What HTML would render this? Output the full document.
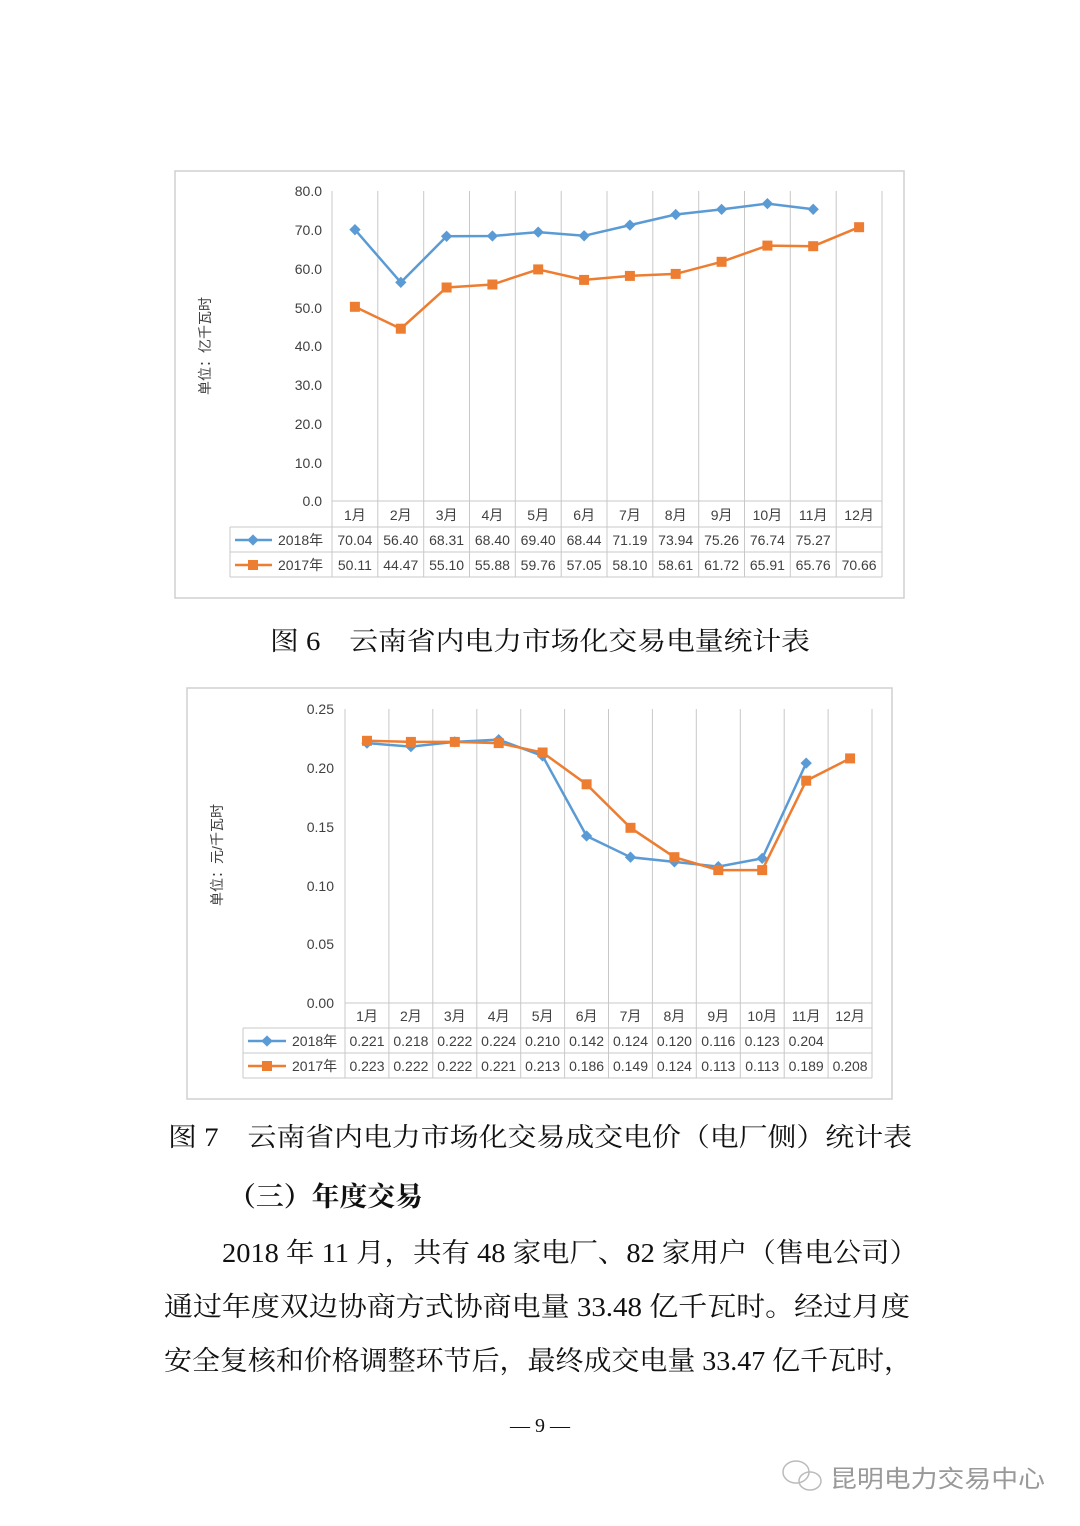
<!DOCTYPE html>
<html><head><meta charset="utf-8"><style>
html,body{margin:0;padding:0;background:#fff;}
svg{display:block;}
.s{font-family:"Liberation Serif","Noto Serif CJK SC",serif;fill:#111;}
.a{font-family:"Liberation Sans","Noto Sans CJK SC",sans-serif;fill:#404040;font-size:14px;}
</style></head><body>
<svg width="1080" height="1526" viewBox="0 0 1080 1526" xmlns="http://www.w3.org/2000/svg">
<rect width="1080" height="1526" fill="#fff"/>

<!-- CHART 1 -->
<rect x="175" y="171" width="729" height="427" fill="#fff" stroke="#d0d0d0" stroke-width="1.5"/>
<g stroke="#c8c8c8" stroke-width="1">
<line x1="332" y1="191" x2="332" y2="577"/>
<line x1="377.8" y1="191" x2="377.8" y2="577"/>
<line x1="423.7" y1="191" x2="423.7" y2="577"/>
<line x1="469.5" y1="191" x2="469.5" y2="577"/>
<line x1="515.3" y1="191" x2="515.3" y2="577"/>
<line x1="561.2" y1="191" x2="561.2" y2="577"/>
<line x1="607" y1="191" x2="607" y2="577"/>
<line x1="652.8" y1="191" x2="652.8" y2="577"/>
<line x1="698.7" y1="191" x2="698.7" y2="577"/>
<line x1="744.5" y1="191" x2="744.5" y2="577"/>
<line x1="790.3" y1="191" x2="790.3" y2="577"/>
<line x1="836.2" y1="191" x2="836.2" y2="577"/>
<line x1="882" y1="191" x2="882" y2="577"/>
<line x1="332" y1="501" x2="882" y2="501"/>
<line x1="230" y1="527" x2="882" y2="527"/>
<line x1="230" y1="552" x2="882" y2="552"/>
<line x1="230" y1="577" x2="882" y2="577"/>
<line x1="230" y1="527" x2="230" y2="577"/>
</g>
<g class="a" text-anchor="end">
<text x="322" y="196">80.0</text><text x="322" y="235">70.0</text><text x="322" y="274">60.0</text>
<text x="322" y="313">50.0</text><text x="322" y="351">40.0</text><text x="322" y="390">30.0</text>
<text x="322" y="429">20.0</text><text x="322" y="468">10.0</text><text x="322" y="506">0.0</text>
</g>
<text class="a" transform="translate(210,346) rotate(-90)" text-anchor="middle" font-size="13">单位：亿千瓦时</text>
<g class="a" text-anchor="middle">
<text x="354.9" y="520">1月</text><text x="400.8" y="520">2月</text><text x="446.6" y="520">3月</text><text x="492.4" y="520">4月</text><text x="538.2" y="520">5月</text><text x="584.1" y="520">6月</text><text x="629.9" y="520">7月</text><text x="675.7" y="520">8月</text><text x="721.6" y="520">9月</text><text x="767.4" y="520">10月</text><text x="813.2" y="520">11月</text><text x="859.1" y="520">12月</text>
<text x="354.9" y="545">70.04</text><text x="400.8" y="545">56.40</text><text x="446.6" y="545">68.31</text><text x="492.4" y="545">68.40</text><text x="538.2" y="545">69.40</text><text x="584.1" y="545">68.44</text><text x="629.9" y="545">71.19</text><text x="675.7" y="545">73.94</text><text x="721.6" y="545">75.26</text><text x="767.4" y="545">76.74</text><text x="813.2" y="545">75.27</text>
<text x="354.9" y="570">50.11</text><text x="400.8" y="570">44.47</text><text x="446.6" y="570">55.10</text><text x="492.4" y="570">55.88</text><text x="538.2" y="570">59.76</text><text x="584.1" y="570">57.05</text><text x="629.9" y="570">58.10</text><text x="675.7" y="570">58.61</text><text x="721.6" y="570">61.72</text><text x="767.4" y="570">65.91</text><text x="813.2" y="570">65.76</text><text x="859.1" y="570">70.66</text>
</g>
<g class="a"><text x="278" y="545">2018年</text><text x="278" y="570">2017年</text></g>
<line x1="235" y1="540" x2="272" y2="540" stroke="#5b9bd5" stroke-width="2.5"/>
<rect x="249" y="536" width="8" height="8" fill="#5b9bd5" transform="rotate(45 253 540)"/>
<line x1="235" y1="565" x2="272" y2="565" stroke="#ed7d31" stroke-width="2.5"/>
<rect x="248" y="560" width="10" height="10" fill="#ed7d31"/>
<polyline fill="none" stroke="#5b9bd5" stroke-width="2.5" points="354.9,229.6 400.8,282.4 446.6,236.3 492.4,236 538.2,232.1 584.1,235.8 629.9,225.1 675.7,214.5 721.6,209.4 767.4,203.6 813.2,209.3"/>
<g fill="#5b9bd5">
<rect x="351" y="225.6" width="8" height="8" transform="rotate(45 354.9 229.6)"/>
<rect x="396.8" y="278.4" width="8" height="8" transform="rotate(45 400.8 282.4)"/>
<rect x="442.6" y="232.3" width="8" height="8" transform="rotate(45 446.6 236.3)"/>
<rect x="488.4" y="232" width="8" height="8" transform="rotate(45 492.4 236)"/>
<rect x="534.2" y="228.1" width="8" height="8" transform="rotate(45 538.2 232.1)"/>
<rect x="580.1" y="231.8" width="8" height="8" transform="rotate(45 584.1 235.8)"/>
<rect x="625.9" y="221.1" width="8" height="8" transform="rotate(45 629.9 225.1)"/>
<rect x="671.7" y="210.5" width="8" height="8" transform="rotate(45 675.7 214.5)"/>
<rect x="717.6" y="205.4" width="8" height="8" transform="rotate(45 721.6 209.4)"/>
<rect x="763.4" y="199.6" width="8" height="8" transform="rotate(45 767.4 203.6)"/>
<rect x="809.2" y="205.3" width="8" height="8" transform="rotate(45 813.2 209.3)"/>
</g>
<polyline fill="none" stroke="#ed7d31" stroke-width="2.5" points="354.9,306.8 400.8,328.7 446.6,287.5 492.4,284.5 538.2,269.4 584.1,279.9 629.9,275.9 675.7,273.9 721.6,261.8 767.4,245.6 813.2,246.2 859.1,227.2"/>
<g fill="#ed7d31">
<rect x="349.9" y="301.8" width="10" height="10"/><rect x="395.8" y="323.7" width="10" height="10"/><rect x="441.6" y="282.5" width="10" height="10"/><rect x="487.4" y="279.5" width="10" height="10"/><rect x="533.2" y="264.4" width="10" height="10"/><rect x="579.1" y="274.9" width="10" height="10"/><rect x="624.9" y="270.9" width="10" height="10"/><rect x="670.7" y="268.9" width="10" height="10"/><rect x="716.6" y="256.8" width="10" height="10"/><rect x="762.4" y="240.6" width="10" height="10"/><rect x="808.2" y="241.2" width="10" height="10"/><rect x="854.1" y="222.2" width="10" height="10"/>
</g>

<text class="s" x="270" y="650" font-size="26" textLength="540" lengthAdjust="spacingAndGlyphs">图 6　云南省内电力市场化交易电量统计表</text>

<!-- CHART 2 -->
<rect x="187" y="688" width="705" height="411" fill="#fff" stroke="#d0d0d0" stroke-width="1.5"/>
<g stroke="#c8c8c8" stroke-width="1">
<line x1="345" y1="709" x2="345" y2="1078"/>
<line x1="388.9" y1="709" x2="388.9" y2="1078"/>
<line x1="432.8" y1="709" x2="432.8" y2="1078"/>
<line x1="476.8" y1="709" x2="476.8" y2="1078"/>
<line x1="520.7" y1="709" x2="520.7" y2="1078"/>
<line x1="564.6" y1="709" x2="564.6" y2="1078"/>
<line x1="608.5" y1="709" x2="608.5" y2="1078"/>
<line x1="652.4" y1="709" x2="652.4" y2="1078"/>
<line x1="696.3" y1="709" x2="696.3" y2="1078"/>
<line x1="740.3" y1="709" x2="740.3" y2="1078"/>
<line x1="784.2" y1="709" x2="784.2" y2="1078"/>
<line x1="828.1" y1="709" x2="828.1" y2="1078"/>
<line x1="872" y1="709" x2="872" y2="1078"/>
<line x1="345" y1="1003" x2="872" y2="1003"/>
<line x1="243" y1="1028" x2="872" y2="1028"/>
<line x1="243" y1="1053" x2="872" y2="1053"/>
<line x1="243" y1="1078" x2="872" y2="1078"/>
<line x1="243" y1="1028" x2="243" y2="1078"/>
</g>
<g class="a" text-anchor="end">
<text x="334" y="714">0.25</text><text x="334" y="773">0.20</text><text x="334" y="832">0.15</text>
<text x="334" y="891">0.10</text><text x="334" y="949">0.05</text><text x="334" y="1008">0.00</text>
</g>
<text class="a" transform="translate(222,855) rotate(-90)" text-anchor="middle" font-size="13">单位：元/千瓦时</text>
<g class="a" text-anchor="middle" font-size="13.5">
<text x="367" y="1021">1月</text><text x="410.9" y="1021">2月</text><text x="454.8" y="1021">3月</text><text x="498.7" y="1021">4月</text><text x="542.6" y="1021">5月</text><text x="586.6" y="1021">6月</text><text x="630.5" y="1021">7月</text><text x="674.4" y="1021">8月</text><text x="718.3" y="1021">9月</text><text x="762.2" y="1021">10月</text><text x="806.2" y="1021">11月</text><text x="850.1" y="1021">12月</text>
<text x="367" y="1046">0.221</text><text x="410.9" y="1046">0.218</text><text x="454.8" y="1046">0.222</text><text x="498.7" y="1046">0.224</text><text x="542.6" y="1046">0.210</text><text x="586.6" y="1046">0.142</text><text x="630.5" y="1046">0.124</text><text x="674.4" y="1046">0.120</text><text x="718.3" y="1046">0.116</text><text x="762.2" y="1046">0.123</text><text x="806.2" y="1046">0.204</text>
<text x="367" y="1071">0.223</text><text x="410.9" y="1071">0.222</text><text x="454.8" y="1071">0.222</text><text x="498.7" y="1071">0.221</text><text x="542.6" y="1071">0.213</text><text x="586.6" y="1071">0.186</text><text x="630.5" y="1071">0.149</text><text x="674.4" y="1071">0.124</text><text x="718.3" y="1071">0.113</text><text x="762.2" y="1071">0.113</text><text x="806.2" y="1071">0.189</text><text x="850.1" y="1071">0.208</text>
</g>
<g class="a" font-size="13.5"><text x="292" y="1046">2018年</text><text x="292" y="1071">2017年</text></g>
<line x1="248" y1="1041" x2="286" y2="1041" stroke="#5b9bd5" stroke-width="2.5"/>
<rect x="263" y="1037" width="8" height="8" fill="#5b9bd5" transform="rotate(45 267 1041)"/>
<line x1="248" y1="1066" x2="286" y2="1066" stroke="#ed7d31" stroke-width="2.5"/>
<rect x="262" y="1061" width="10" height="10" fill="#ed7d31"/>
<polyline fill="none" stroke="#5b9bd5" stroke-width="2.5" points="367,743.1 410.9,746.6 454.8,741.9 498.7,739.6 542.6,756 586.6,836 630.5,857.2 674.4,861.9 718.3,866.6 762.2,858.4 806.2,763.1"/>
<g fill="#5b9bd5">
<rect x="363" y="739.1" width="8" height="8" transform="rotate(45 367 743.1)"/>
<rect x="406.9" y="742.6" width="8" height="8" transform="rotate(45 410.9 746.6)"/>
<rect x="450.8" y="737.9" width="8" height="8" transform="rotate(45 454.8 741.9)"/>
<rect x="494.7" y="735.6" width="8" height="8" transform="rotate(45 498.7 739.6)"/>
<rect x="538.6" y="752" width="8" height="8" transform="rotate(45 542.6 756)"/>
<rect x="582.6" y="832" width="8" height="8" transform="rotate(45 586.6 836)"/>
<rect x="626.5" y="853.2" width="8" height="8" transform="rotate(45 630.5 857.2)"/>
<rect x="670.4" y="857.9" width="8" height="8" transform="rotate(45 674.4 861.9)"/>
<rect x="714.3" y="862.6" width="8" height="8" transform="rotate(45 718.3 866.6)"/>
<rect x="758.2" y="854.4" width="8" height="8" transform="rotate(45 762.2 858.4)"/>
<rect x="802.2" y="759.1" width="8" height="8" transform="rotate(45 806.2 763.1)"/>
</g>
<polyline fill="none" stroke="#ed7d31" stroke-width="2.5" points="367,740.8 410.9,741.9 454.8,741.9 498.7,743.1 542.6,752.5 586.6,784.3 630.5,827.8 674.4,857.2 718.3,870.1 762.2,870.1 806.2,780.7 850.1,758.4"/>
<g fill="#ed7d31">
<rect x="362" y="735.8" width="10" height="10"/><rect x="405.9" y="736.9" width="10" height="10"/><rect x="449.8" y="736.9" width="10" height="10"/><rect x="493.7" y="738.1" width="10" height="10"/><rect x="537.6" y="747.5" width="10" height="10"/><rect x="581.6" y="779.3" width="10" height="10"/><rect x="625.5" y="822.8" width="10" height="10"/><rect x="669.4" y="852.2" width="10" height="10"/><rect x="713.3" y="865.1" width="10" height="10"/><rect x="757.2" y="865.1" width="10" height="10"/><rect x="801.2" y="775.7" width="10" height="10"/><rect x="845.1" y="753.4" width="10" height="10"/>
</g>

<text class="s" x="168" y="1146" font-size="26" textLength="744" lengthAdjust="spacingAndGlyphs">图 7　云南省内电力市场化交易成交电价（电厂侧）统计表</text>
<text class="s" x="228" y="1206" font-size="27" font-weight="bold" textLength="195" lengthAdjust="spacingAndGlyphs">（三）年度交易</text>
<text class="s" x="222" y="1262" font-size="27" textLength="696" lengthAdjust="spacingAndGlyphs">2018 年 11 月，共有 48 家电厂、82 家用户（售电公司）</text>
<text class="s" x="164" y="1316" font-size="27" textLength="746" lengthAdjust="spacingAndGlyphs">通过年度双边协商方式协商电量 33.48 亿千瓦时。经过月度</text>
<text class="s" x="164" y="1370" font-size="27" textLength="748" lengthAdjust="spacingAndGlyphs">安全复核和价格调整环节后，最终成交电量 33.47 亿千瓦时，</text>
<text class="s" x="540" y="1432" font-size="20" text-anchor="middle">— 9 —</text>

<g fill="none" stroke="#bbb" stroke-width="1.5">
<ellipse cx="796" cy="1472" rx="13" ry="11"/>
<ellipse cx="810" cy="1481" rx="11" ry="9"/>
</g>
<text x="830" y="1487" font-size="24" fill="#999" font-family="'Liberation Sans','Noto Sans CJK SC',sans-serif" textLength="215" lengthAdjust="spacingAndGlyphs">昆明电力交易中心</text>
</svg>
</body></html>
